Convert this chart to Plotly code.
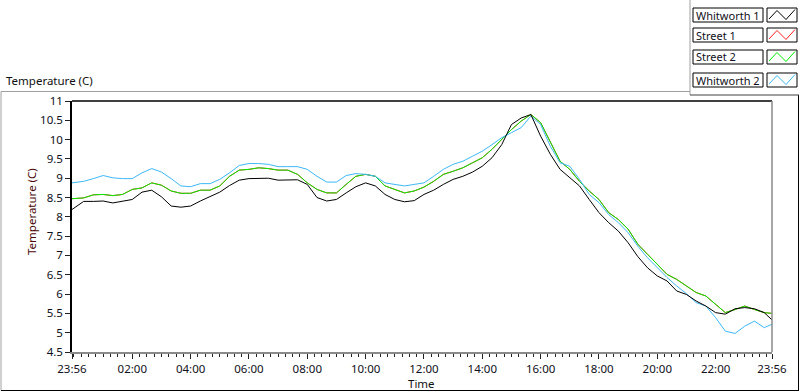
import plotly.graph_objects as go
import pandas as pd

# ---------------- data ----------------
time_labels = ["23:56"] + [f"{m // 60:02d}:{m % 60:02d}" for m in range(20, 1440, 20)] + ["23:56"]

whitworth1 = [8.19, 8.40, 8.40, 8.41, 8.36, 8.40, 8.45, 8.64, 8.69, 8.52,
              8.28, 8.25, 8.28, 8.41, 8.52, 8.64, 8.81, 8.95, 8.99, 8.99,
              9.00, 8.95, 8.96, 8.96, 8.84, 8.50, 8.41, 8.45, 8.62, 8.78,
              8.88, 8.80, 8.58, 8.45, 8.39, 8.42, 8.58, 8.69, 8.84, 8.97,
              9.05, 9.16, 9.31, 9.53, 9.87, 10.39, 10.56, 10.65, 10.09, 9.62,
              9.23, 9.01, 8.80, 8.45, 8.11, 7.85, 7.63, 7.33, 6.97, 6.68,
              6.47, 6.34, 6.08, 5.99, 5.82, 5.69, 5.52, 5.48, 5.62, 5.65,
              5.62, 5.52, 5.33]

street2 = [8.47, 8.49, 8.57, 8.58, 8.55, 8.58, 8.71, 8.75, 8.88, 8.82,
           8.67, 8.61, 8.61, 8.69, 8.69, 8.80, 9.05, 9.21, 9.23, 9.27,
           9.25, 9.21, 9.21, 9.10, 8.88, 8.71, 8.62, 8.62, 8.84, 9.05,
           9.10, 9.05, 8.80, 8.71, 8.62, 8.67, 8.77, 8.92, 9.10, 9.18,
           9.27, 9.40, 9.53, 9.75, 10.00, 10.26, 10.48, 10.65, 10.44, 9.92,
           9.44, 9.23, 8.92, 8.67, 8.45, 8.11, 7.93, 7.68, 7.29, 7.03,
           6.77, 6.51, 6.38, 6.21, 6.04, 5.95, 5.73, 5.52, 5.60, 5.69,
           5.60, 5.52, 5.50]

street1 = list(street2)  # hidden beneath Street 2 in the reference

whitworth2 = [8.88, 8.92, 8.99, 9.07, 9.01, 8.99, 8.99, 9.14, 9.25, 9.16,
              8.99, 8.80, 8.78, 8.86, 8.86, 8.97, 9.14, 9.33, 9.38, 9.38,
              9.36, 9.30, 9.30, 9.30, 9.23, 9.05, 8.90, 8.90, 9.07, 9.12,
              9.10, 9.05, 8.88, 8.84, 8.80, 8.84, 8.88, 9.05, 9.23, 9.36,
              9.44, 9.57, 9.70, 9.87, 10.05, 10.18, 10.31, 10.61, 10.39, 9.83,
              9.40, 9.31, 8.97, 8.58, 8.37, 8.06, 7.85, 7.59, 7.24, 6.94,
              6.68, 6.43, 6.21, 6.01, 5.78, 5.69, 5.39, 5.04, 4.98, 5.17,
              5.30, 5.13, 5.22]

series_names = ["Whitworth 1", "Street 1", "Street 2", "Whitworth 2"]
series_colors = ["#000000", "#ff2020", "#00ee00", "#3db8f5"]

x_tick_labels = ["23:56", "02:00", "04:00", "06:00", "08:00", "10:00", "12:00",
                 "14:00", "16:00", "18:00", "20:00", "22:00", "23:56"]

# ---------------- build ----------------
def to_dt(labels):
    out = []
    for i, t in enumerate(labels):
        day = "2020-01-01" if i == 0 else "2020-01-02"
        out.append(pd.Timestamp(f"{day} {t}"))
    return out

x = to_dt(time_labels)
tickvals = to_dt(x_tick_labels)

FONT = "Noto Sans"
fig = go.Figure()
data = {"Whitworth 1": whitworth1, "Street 1": street1,
        "Street 2": street2, "Whitworth 2": whitworth2}
order = ["Street 1", "Street 2", "Whitworth 2", "Whitworth 1"]
for name in order:
    c = series_colors[series_names.index(name)]
    fig.add_trace(go.Scatter(x=x, y=data[name], mode="lines", name=name,
                             line=dict(color=c, width=1), showlegend=False))

L, R, T, B = 72, 28, 101, 40
W, H = 800, 392
PW, PH = W - L - R, H - T - B

def px(v):
    return (v - L) / PW

def py(v):
    return (H - B - v) / PH

shapes = []
annotations = []

def line(x0, y0, x1, y1, color, width=1):
    shapes.append(dict(type="line", xref="paper", yref="paper",
                       x0=px(x0), y0=py(y0), x1=px(x1), y1=py(y1),
                       line=dict(color=color, width=width)))

# plot frame: top black, right grey
line(L, T, W - R, T, "#000000", 1.5)
line(W - R, T, W - R, H - B, "#8a8a8a", 1.5)

# outer panel frame
line(1, 91.5, 690, 91.5, "#a0a0a0")
line(1, 91.5, 1, 390.5, "#a0a0a0")
line(1, 390.5, 799, 390.5, "#000000")
line(798.5, 95, 798.5, 390.5, "#000000")
# legend panel frame
line(690, 0, 690, 95, "#a0a0a0")
line(690, 95, 799, 95, "#404040")

# legend rows
rows = [(8, 22), (28, 42), (50, 64), (73, 87)]
for (y0, y1), name in zip(rows, series_names):
    c = series_colors[series_names.index(name)]
    shapes.append(dict(type="rect", xref="paper", yref="paper",
                       x0=px(693), x1=px(763), y0=py(y1), y1=py(y0),
                       line=dict(color="#000000", width=1), fillcolor="white"))
    shapes.append(dict(type="rect", xref="paper", yref="paper",
                       x0=px(767), x1=px(797), y0=py(y1), y1=py(y0),
                       line=dict(color="#000000", width=1), fillcolor="white"))
    pts = [(769, y1 - 3), (777, y0 + 2.5), (786, y1 - 2.5), (795, y0 + 1.5)]
    path = "M " + " L ".join(f"{px(a)},{py(b)}" for a, b in pts)
    shapes.append(dict(type="path", xref="paper", yref="paper", path=path,
                       line=dict(color=c, width=1)))
    annotations.append(dict(xref="paper", yref="paper", x=px(694), y=py((y0 + y1) / 2),
                            text=name, showarrow=False, xanchor="left", yanchor="middle",
                            font=dict(family=FONT, size=11, color="#101020")))

annotations.append(dict(xref="paper", yref="paper", x=px(4), y=py(80),
                        text="Temperature (C)", showarrow=False, xanchor="left",
                        yanchor="middle", font=dict(family=FONT, size=11.5, color="#101010")))
annotations.append(dict(xref="paper", yref="paper", x=px(31), y=py(212),
                        text="Temperature (C)", showarrow=False, textangle=-90,
                        xanchor="center", yanchor="middle",
                        font=dict(family=FONT, size=11.5, color="#4a0808")))
annotations.append(dict(xref="paper", yref="paper", x=px(421), y=py(383),
                        text="Time", showarrow=False, xanchor="center", yanchor="middle",
                        font=dict(family=FONT, size=11.5, color="#101010")))

fig.update_layout(
    width=W, height=H,
    margin=dict(l=L, r=R, t=T, b=B, pad=0),
    paper_bgcolor="white", plot_bgcolor="white",
    showlegend=False,
    font=dict(family=FONT, size=11.5, color="#101020"),
    shapes=shapes, annotations=annotations,
    xaxis=dict(type="date", range=[tickvals[0], tickvals[-1]],
               tickvals=tickvals, ticktext=x_tick_labels,
               ticks="outside", ticklen=5, tickcolor="#202020", tickwidth=1,
               minor=dict(ticks="outside", ticklen=3, tickcolor="#202020",
                          dtick=900000, tick0="2020-01-02 00:00", showgrid=False),
               showgrid=False, zeroline=False,
               showline=True, linecolor="#8a8a8a", linewidth=1.5,
               tickfont=dict(family=FONT, size=11.5, color="#101020")),
    yaxis=dict(range=[4.5, 11], dtick=0.5, tick0=4.5,
               ticks="outside", ticklen=5, tickcolor="#202020",
               showgrid=False, zeroline=False,
               showline=True, linecolor="#000000", linewidth=1.5,
               tickfont=dict(family=FONT, size=11.5, color="#101020")),
)

fig.write_html("out.html", config={"displayModeBar": False},
               post_script="document.body.style.margin='0px';document.body.style.overflow='hidden';")
